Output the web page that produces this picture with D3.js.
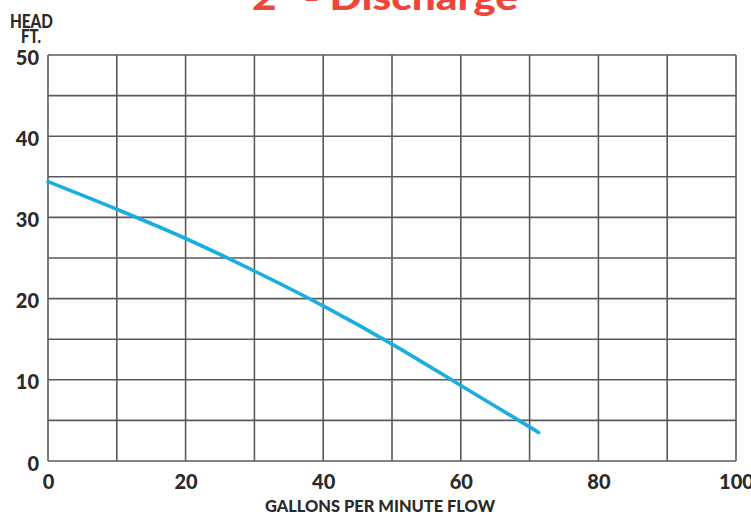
<!DOCTYPE html>
<html><head><meta charset="utf-8">
<script src="https://cdn.jsdelivr.net/npm/d3@7"></script>
<style>body{margin:0;background:#fff}svg{display:block}</style>
</head><body>
<svg id="c" width="751" height="519"></svg>
<script>
const gpm  = [0, 10, 20, 30, 40, 50, 60, 70, 71.3];
const head = [34.4, 31.0, 27.4, 23.4, 19.1, 14.4, 9.3, 4.2, 3.5];
const xTicks = [0, 20, 40, 60, 80, 100];
const yTicks = [0, 10, 20, 30, 40, 50];
const xGrid = d3.range(0, 101, 10);
const yGrid = d3.range(0, 51, 5);

const svg = d3.select('#c');
const L = 48, R = 736, T = 55, B = 461;
const x = d3.scaleLinear().domain([0, 100]).range([L, R]);
const y = d3.scaleLinear().domain([0, 50]).range([B, T]);
const font = 'Lato, "DejaVu Sans", sans-serif';
const ink = '#2a2a2a';

// title (cut at top)
svg.append('text').attr('x', 252).attr('y', 10)
  .attr('font-family', font).attr('font-weight', 900).attr('font-size', 36)
  .attr('fill', '#f0453a').attr('textLength', 266).attr('lengthAdjust', 'spacingAndGlyphs')
  .text('2" - Discharge');

// grid
const g = svg.append('g');
g.selectAll('line.v').data(xGrid).join('line')
  .attr('x1', d => x(d)).attr('x2', d => x(d)).attr('y1', T).attr('y2', B)
  .attr('stroke', '#5a5a5a').attr('stroke-width', 1.6);
g.selectAll('line.h').data(yGrid).join('line')
  .attr('y1', d => y(d)).attr('y2', d => y(d)).attr('x1', L).attr('x2', R)
  .attr('stroke', '#5a5a5a').attr('stroke-width', 1.6);

// tick labels via d3 axes
const xa = svg.append('g').attr('transform', `translate(0,${B})`)
  .call(d3.axisBottom(x).tickValues(xTicks).tickSize(0).tickPadding(14).tickFormat(d3.format('d')));
xa.select('.domain').remove();
xa.selectAll('text').attr('font-family', font).attr('font-weight', 900).attr('font-size', 20).attr('fill', ink);

const ya = svg.append('g').attr('transform', `translate(${L},0)`)
  .call(d3.axisLeft(y).tickValues(yTicks).tickSize(0).tickPadding(9).tickFormat(d3.format('d')));
ya.select('.domain').remove();
ya.selectAll('text').attr('font-family', font).attr('font-weight', 900).attr('font-size', 20).attr('fill', ink)
  .attr('dy', '0.45em');

// axis titles
svg.append('text').attr('x', 31.5).attr('y', 28).attr('text-anchor', 'middle')
  .attr('font-family', font).attr('font-weight', 900).attr('font-size', 18).attr('fill', ink)
  .attr('textLength', 43).attr('lengthAdjust', 'spacingAndGlyphs').text('HEAD');
svg.append('text').attr('x', 31).attr('y', 43).attr('text-anchor', 'middle')
  .attr('font-family', font).attr('font-weight', 900).attr('font-size', 18).attr('fill', ink)
  .attr('textLength', 20).attr('lengthAdjust', 'spacingAndGlyphs').text('FT.');
svg.append('text').attr('x', 380).attr('y', 512).attr('text-anchor', 'middle')
  .attr('font-family', font).attr('font-weight', 900).attr('font-size', 16.5).attr('fill', ink)
  .attr('textLength', 230).attr('lengthAdjust', 'spacingAndGlyphs').text('GALLONS PER MINUTE FLOW');

// curve
const line = d3.line().x(d => x(d[0])).y(d => y(d[1])).curve(d3.curveCatmullRom);
svg.append('path').datum(gpm.map((v, i) => [v, head[i]]))
  .attr('d', line).attr('fill', 'none').attr('stroke', '#1aaee0')
  .attr('stroke-width', 3.6).attr('stroke-linecap', 'round');
</script>
</body></html>
